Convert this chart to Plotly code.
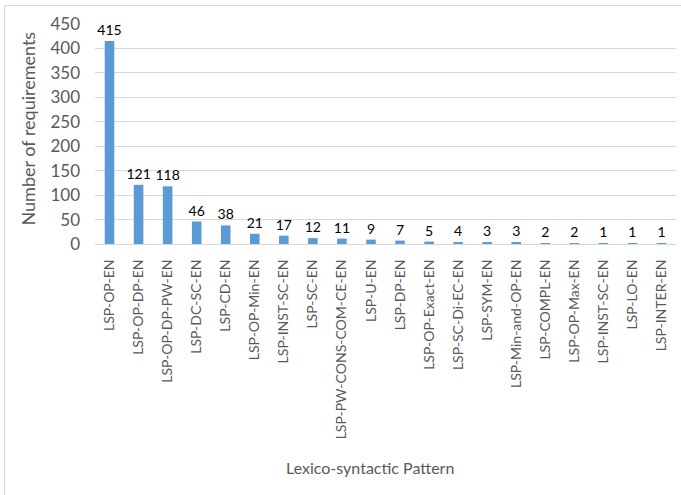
import plotly.graph_objects as go

categories = ["LSP-OP-EN", "LSP-OP-DP-EN", "LSP-OP-DP-PW-EN", "LSP-DC-SC-EN", "LSP-CD-EN",
              "LSP-OP-Min-EN", "LSP-INST-SC-EN", "LSP-SC-EN", "LSP-PW-CONS-COM-CE-EN", "LSP-U-EN",
              "LSP-DP-EN", "LSP-OP-Exact-EN", "LSP-SC-Di-EC-EN", "LSP-SYM-EN", "LSP-Min-and-OP-EN",
              "LSP-COMPL-EN", "LSP-OP-Max-EN", "LSP-INST-SC-EN", "LSP-LO-EN", "LSP-INTER-EN"]
values = [415, 121, 118, 46, 38, 21, 17, 12, 11, 9, 7, 5, 4, 3, 3, 2, 2, 1, 1, 1]
y_ticks = [0, 50, 100, 150, 200, 250, 300, 350, 400, 450]

FONT = "Lato"
W, H = 681, 495
L, R, T, B = 95, 5, 24, 251
pw, ph = W - L - R, H - T - B

x_idx = list(range(len(categories)))

fig = go.Figure(go.Bar(
    x=x_idx, y=values,
    marker=dict(color="#5B9BD5", line=dict(width=0)),
    text=[str(v) for v in values], textposition="outside",
    textfont=dict(family=FONT, size=14, color="#000000"),
    constraintext="none",
    cliponaxis=False, width=0.33,
))

def px_x(p):
    return (p - L) / pw

def px_y(p):
    return (H - B - p) / ph

fig.update_layout(
    width=W, height=H,
    margin=dict(l=L, r=R, t=T, b=B),
    paper_bgcolor="white", plot_bgcolor="white",
    showlegend=False,
    font=dict(family=FONT, color="#595959"),
    xaxis=dict(
        tickmode="array", tickvals=x_idx, ticktext=categories,
        tickangle=-90, tickfont=dict(family=FONT, size=14, color="#595959"),
        range=[-0.5, len(categories) - 0.5],
        showgrid=False, zeroline=False, showline=True, linecolor="#D9D9D9",
        ticks="", ticklabelstandoff=9, automargin=False,
    ),
    yaxis=dict(
        range=[0, 450], tickmode="array", tickvals=y_ticks,
        tickfont=dict(family=FONT, size=17, color="#595959"),
        showgrid=True, gridcolor="#D9D9D9", gridwidth=1,
        zeroline=False, showline=False, ticks="", ticklabelstandoff=14,
        automargin=False,
    ),
    annotations=[
        dict(text="Number of requirements", xref="paper", yref="paper",
             x=px_x(27.5), y=px_y(129), textangle=-90, showarrow=False,
             xanchor="center", yanchor="middle",
             font=dict(family=FONT, size=18, color="#595959")),
        dict(text="Lexico-syntactic Pattern", xref="paper", yref="paper",
             x=px_x(370), y=px_y(467), showarrow=False,
             xanchor="center", yanchor="middle",
             font=dict(family=FONT, size=16, color="#595959")),
    ],
    shapes=[
        dict(type="rect", xref="paper", yref="paper",
             x0=px_x(4.5), x1=px_x(690), y0=px_y(505), y1=px_y(5.5),
             line=dict(color="#D9D9D9", width=1), fillcolor="rgba(0,0,0,0)",
             layer="below"),
    ],
)

fig.write_html("out.html", config={"displayModeBar": False},
               post_script="document.body.style.margin='0';document.body.style.overflow='hidden';")
